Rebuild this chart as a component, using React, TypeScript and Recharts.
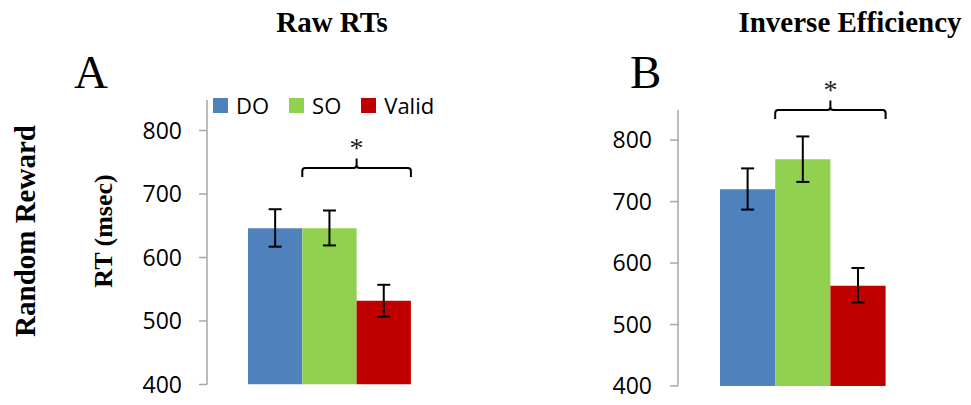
import { BarChart, Bar, XAxis, YAxis, ErrorBar, Legend, LabelList } from 'recharts';

const CONDITIONS = ['DO', 'SO', 'Valid'];
const COLORS = ['#4F81BD', '#92D050', '#C00000'];
const Y_TICKS = [400, 500, 600, 700, 800];

// Raw RTs (msec)
const RAW_MEAN = [646, 646, 532];
const RAW_LOW = [617, 619, 507];
const RAW_HIGH = [676, 674, 557];

// Inverse efficiency
const IE_MEAN = [720, 769, 563];
const IE_LOW = [687, 732, 536];
const IE_HIGH = [754, 806, 592];

const BASE = 400;

function buildRows(mean: number[], low: number[], high: number[]) {
    const row: any = { name: 'all' };
    CONDITIONS.forEach((c, i) => {
        row[c] = mean[i];
        row[c + 'Err'] = [mean[i] - low[i], high[i] - mean[i]];
    });
    return [row];
}

// brace over SO + Valid with a star, placed via the Valid bar geometry
function makeBrace(braceValue: number, barValue: number) {
    return (props: any) => {
        const box = props.viewBox || props;
        const x = Number(props.x ?? box.x);
        const y = Number(props.y ?? box.y);
        const width = Number(props.width ?? box.width);
        const height = Number(props.height ?? box.height);
        const px = height / (barValue - BASE);
        const bottom = y + height;
        const yb = bottom - (braceValue - BASE) * px;
        const x0 = x - width;
        const x1 = x + width;
        const xm = x;
        const d =
            `M${x0},${yb + 9} L${x0},${yb + 3} Q${x0},${yb} ${x0 + 3},${yb} L${xm - 3},${yb} Q${xm},${yb} ${xm},${yb - 3} L${xm},${yb - 9.5} ` +
            `M${xm},${yb - 3} Q${xm},${yb} ${xm + 3},${yb} L${x1 - 3},${yb} Q${x1},${yb} ${x1},${yb + 3} L${x1},${yb + 9}`;
        return (
            <g>
                <path d={d} fill="none" stroke="#000" strokeWidth={2} />
                <text x={xm} y={yb - 11} textAnchor="middle" fontFamily="'Liberation Serif', serif" fontSize={28} fill="#222">*</text>
            </g>
        );
    };
}

function LegendContent(props: any) {
    const items = props.payload || [];
    return (
        <div style={{ display: 'flex', alignItems: 'center', fontFamily: "'Open Sans', sans-serif", fontSize: 22, color: '#000', lineHeight: 1 }}>
            {items.map((it: any) => (
                <div key={it.value} style={{ display: 'flex', alignItems: 'center', marginRight: 20 }}>
                    <span style={{ width: 15, height: 15, background: it.color, marginRight: 8, display: 'inline-block' }} />
                    <span>{it.value}</span>
                </div>
            ))}
        </div>
    );
}

type PanelProps = {
    left: number;
    width: number;
    mean: number[];
    low: number[];
    high: number[];
    yMax: number;
    yAxisWidth: number;
    margin: { top: number; right: number; bottom: number; left: number };
    barSize: number;
    tickMargin: number;
    braceValue: number;
    showLegend?: boolean;
};

function Panel(p: PanelProps) {
    const rows = buildRows(p.mean, p.low, p.high);
    return (
        <div style={{ position: 'absolute', left: p.left, top: 0 }}>
            <BarChart width={p.width} height={405} data={rows} margin={p.margin} barGap={0} barSize={p.barSize}>
                <XAxis dataKey="name" hide />
                <YAxis
                    domain={[BASE, p.yMax]}
                    ticks={Y_TICKS}
                    interval={0}
                    width={p.yAxisWidth}
                    axisLine={{ stroke: '#A6A6A6', strokeWidth: 1.5 }}
                    tickLine={{ stroke: '#A6A6A6', strokeWidth: 1.5 }}
                    tickSize={8}
                    tickMargin={p.tickMargin}
                    tick={{ fill: '#000', fontSize: 23, fontFamily: "'Open Sans', sans-serif" }}
                    allowDataOverflow
                />
                {p.showLegend && (
                    <Legend
                        layout="horizontal"
                        align="center"
                        verticalAlign="middle"
                        content={<LegendContent />}
                        wrapperStyle={{ left: 213, top: 94, width: 'auto', height: 'auto' }}
                    />
                )}
                {CONDITIONS.map((c, i) => (
                    <Bar key={c} dataKey={c} name={c} fill={COLORS[i]} isAnimationActive={false}>
                        <ErrorBar dataKey={c + 'Err'} width={6.5} stroke="#000" strokeWidth={2} direction="y" />
                        {c === 'Valid' && <LabelList dataKey={c} content={makeBrace(p.braceValue, p.mean[i])} />}
                    </Bar>
                ))}
            </BarChart>
        </div>
    );
}

export default function App() {
    const serif = "'Liberation Serif', 'Times New Roman', serif";
    return (
        <div style={{ position: 'absolute', left: 0, top: 0, width: 971, height: 405, background: '#fff' }}>
            <Panel
                left={0}
                width={480}
                mean={RAW_MEAN}
                low={RAW_LOW}
                high={RAW_HIGH}
                yMax={848}
                yAxisWidth={207}
                margin={{ top: 100, right: 28, bottom: 20.5, left: 0 }}
                barSize={54.3}
                tickMargin={17}
                braceValue={741}
                showLegend
            />
            <Panel
                left={480}
                width={491}
                mean={IE_MEAN}
                low={IE_LOW}
                high={IE_HIGH}
                yMax={849}
                yAxisWidth={198}
                margin={{ top: 110, right: 43.4, bottom: 19, left: 0 }}
                barSize={55.2}
                tickMargin={18}
                braceValue={849}
            />
            <svg width={971} height={405} style={{ position: 'absolute', left: 0, top: 0, pointerEvents: 'none' }}>
                <text x={332} y={32} textAnchor="middle" fontFamily={serif} fontWeight="bold" fontSize={29} fill="#000">Raw RTs</text>
                <text x={850} y={32} textAnchor="middle" fontFamily={serif} fontWeight="bold" fontSize={29} fill="#000">Inverse Efficiency</text>
                <text x={74} y={88} fontFamily={serif} fontSize={47} fill="#000">A</text>
                <text x={630} y={88} fontFamily={serif} fontSize={47} fill="#000">B</text>
                <text x={35} y={231} transform="rotate(-90, 35, 231)" textAnchor="middle" fontFamily={serif} fontWeight="bold" fontSize={29} fill="#000">Random Reward</text>
                <text x={112} y={231} transform="rotate(-90, 112, 231)" textAnchor="middle" fontFamily={serif} fontWeight="bold" fontSize={26} fill="#000">RT (msec)</text>
            </svg>
        </div>
    );
}
